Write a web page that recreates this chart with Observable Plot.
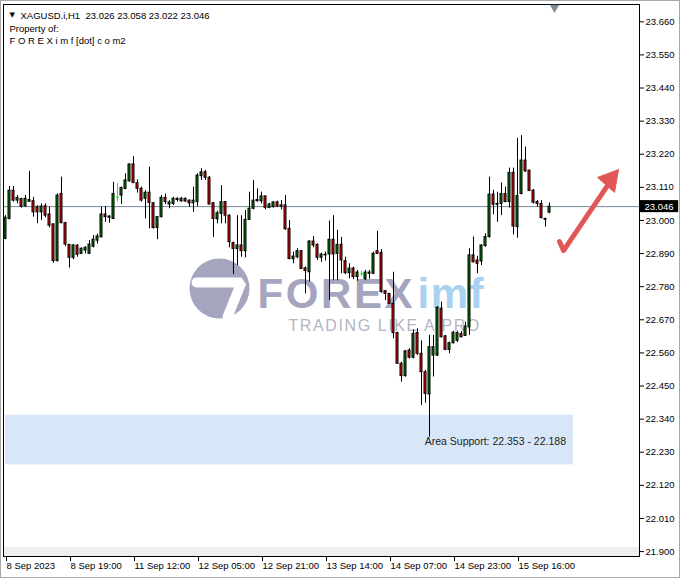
<!DOCTYPE html>
<html><head><meta charset="utf-8">
<script src="https://cdn.jsdelivr.net/npm/d3@7"></script>
<script src="https://cdn.jsdelivr.net/npm/@observablehq/plot@0.6"></script>
<style>
html,body{margin:0;padding:0;background:#fff;}
#chart{position:relative;width:681px;height:579px;overflow:hidden;}
</style></head>
<body><div id="chart"></div>
<script>
// Hourly candles, XAGUSD.i H1
const opens = [22.939,23.005,23.099,23.066,23.071,23.047,23.062,23.064,23.044,23.027,23.047,23.020,22.987,22.865,23.088,22.991,22.919,22.876,22.916,22.889,22.900,22.889,22.913,22.933,22.944,23.020,23.009,23.005,23.077,23.083,23.105,23.130,23.186,23.124,23.105,23.072,23.092,23.057,22.975,23.011,23.075,23.053,23.055,23.068,23.064,23.072,23.066,23.057,23.061,23.147,23.160,23.142,23.057,23.004,23.022,23.061,23.016,22.925,22.905,22.917,22.898,23.002,23.039,23.064,23.064,23.080,23.042,23.044,23.060,23.050,23.050,22.972,22.871,22.878,22.898,22.841,22.828,22.930,22.919,22.876,22.884,22.887,22.936,22.889,22.919,22.865,22.825,22.840,22.812,22.823,22.805,22.823,22.823,22.898,22.892,22.765,22.756,22.723,22.626,22.524,22.483,22.568,22.544,22.626,22.557,22.496,22.422,22.551,22.551,22.707,22.615,22.570,22.592,22.600,22.623,22.616,22.645,22.884,22.867,22.864,22.915,22.945,23.086,23.052,23.055,23.088,23.061,23.158,22.978,23.088,23.199,23.166,23.099,23.061,23.055,23.002,23.026];
const highs = [23.016,23.113,23.113,23.083,23.074,23.083,23.163,23.077,23.049,23.055,23.055,23.044,22.989,23.088,23.144,22.994,22.920,22.920,22.920,22.909,22.913,22.933,22.950,22.955,23.044,23.046,23.016,23.127,23.122,23.111,23.155,23.188,23.212,23.135,23.111,23.099,23.177,23.060,23.013,23.083,23.088,23.066,23.077,23.075,23.077,23.075,23.068,23.111,23.155,23.172,23.166,23.146,23.060,23.031,23.116,23.063,23.018,22.928,23.016,23.016,23.033,23.094,23.133,23.105,23.094,23.080,23.057,23.062,23.064,23.066,23.083,23.000,22.895,22.906,22.900,22.845,22.933,22.947,22.922,22.891,22.895,22.998,23.016,22.967,22.944,22.878,22.856,22.845,22.834,22.832,22.834,22.834,22.895,22.964,22.903,22.767,22.757,22.828,22.629,22.529,22.568,22.574,22.637,22.640,22.600,22.502,22.618,22.618,22.714,22.729,22.618,22.596,22.632,22.632,22.631,22.662,22.906,22.945,22.881,22.919,22.956,23.144,23.100,23.094,23.125,23.111,23.174,23.174,23.273,23.282,23.244,23.166,23.103,23.066,23.066,23.008,23.058];
const lows = [22.936,23.002,23.061,23.055,23.041,23.044,23.061,23.011,22.989,23.000,23.009,22.975,22.858,22.862,22.989,22.913,22.842,22.869,22.878,22.887,22.889,22.887,22.909,22.922,22.942,22.994,22.991,23.004,23.061,23.053,23.102,23.127,23.124,23.091,23.061,23.005,22.972,22.971,22.936,23.009,23.053,23.039,23.050,23.061,23.060,23.060,23.044,23.027,23.046,23.133,23.133,23.052,22.944,22.989,22.989,22.989,22.909,22.820,22.850,22.878,22.876,23.000,23.035,23.061,23.055,23.035,23.039,23.042,23.044,23.035,22.967,22.869,22.856,22.872,22.837,22.756,22.795,22.909,22.867,22.861,22.865,22.734,22.800,22.800,22.823,22.820,22.806,22.803,22.798,22.814,22.800,22.805,22.820,22.887,22.758,22.734,22.721,22.607,22.522,22.463,22.479,22.540,22.540,22.551,22.385,22.393,22.280,22.480,22.548,22.610,22.568,22.557,22.590,22.595,22.610,22.616,22.618,22.859,22.823,22.850,22.911,22.941,23.019,22.994,23.016,23.059,23.041,22.952,22.941,23.085,23.160,23.096,23.055,23.044,23.005,22.978,23.022];
const closes = [23.009,23.099,23.066,23.075,23.046,23.072,23.068,23.027,23.027,23.046,23.016,22.983,22.865,23.083,22.991,22.920,22.876,22.917,22.886,22.906,22.909,22.920,22.936,22.947,23.020,23.011,23.013,23.088,23.077,23.108,23.133,23.186,23.124,23.105,23.066,23.092,23.058,22.975,23.011,23.075,23.061,23.060,23.072,23.072,23.072,23.063,23.057,23.066,23.149,23.160,23.142,23.053,23.005,23.024,23.061,23.016,22.928,22.905,22.917,22.898,23.002,23.039,23.066,23.068,23.080,23.042,23.053,23.060,23.046,23.046,22.971,22.872,22.880,22.898,22.839,22.832,22.930,22.917,22.876,22.887,22.886,22.936,22.887,22.919,22.867,22.825,22.840,22.812,22.827,22.823,22.827,22.827,22.889,22.889,22.762,22.756,22.723,22.626,22.524,22.483,22.565,22.544,22.623,22.557,22.496,22.424,22.579,22.579,22.710,22.612,22.570,22.592,22.627,22.626,22.612,22.648,22.884,22.861,22.856,22.917,22.945,23.086,23.052,23.055,23.088,23.061,23.158,22.980,23.081,23.199,23.163,23.098,23.059,23.055,23.008,23.005,23.046];

const yTickLabels = ["23.660","23.550","23.440","23.330","23.220","23.110","23.000","22.890","22.780","22.670","22.560","22.450","22.340","22.230","22.120","22.010","21.900"];
const xTickIndex = [0,16,32,48,64,80,96,112,128];
const xTickLabels = ["8 Sep 2023","8 Sep 19:00","11 Sep 12:00","12 Sep 05:00","12 Sep 21:00","13 Sep 14:00","14 Sep 07:00","14 Sep 23:00","15 Sep 16:00"];

const symbolName = "XAGUSD.i,H1";
const supportHigh = 22.353, supportLow = 22.188;

const candles = opens.map((o, i) => ({i, o, h: highs[i], l: lows[i], c: closes[i]}));
const bulls = candles.filter(d => d.c > d.o);
const bears = candles.filter(d => d.c < d.o);
const dojis = candles.filter(d => d.c === d.o);
const last = candles[candles.length - 1];
const yTicks = yTickLabels.map(Number);

const FONT = "Liberation Sans, Arial, sans-serif";
const header = `${symbolName}\u00a0\u00a0${last.o.toFixed(3)} ${last.h.toFixed(3)} ${last.l.toFixed(3)} ${last.c.toFixed(3)}`;

const plot = Plot.plot({
  width: 681, height: 579,
  marginLeft: 3, marginRight: 42, marginTop: 4, marginBottom: 23,
  x: {domain: [-0.5, 158.5]},
  y: {domain: [21.8836, 23.7175]},
  style: {fontFamily: FONT, fontSize: "9.5px", background: "white", color: "black", overflow: "visible"},
  marks: [
    // bottom grey band
    Plot.rect([0], {y1: 21.8836, y2: 21.9135, fill: "#efefef"}),
    // support area
    Plot.rect([0], {x1: 0, x2: 142, y1: supportLow, y2: supportHigh, fill: "#d8e7f7"}),
    Plot.text([`Area Support: ${supportHigh.toFixed(3)} - ${supportLow.toFixed(3)}`], {x: 104.8, y: 22.266, textAnchor: "start", fontSize: 10.5, fill: "#222"}),
    // watermark logo
    Plot.dot([0], {x: 53.5, y: 22.774, r: 30, fill: "#a5a5bf", stroke: "none"}),
    Plot.line([[47.75, 22.794], [59, 22.794], [55.5, 22.680]], {x: d => d[0], y: d => d[1], stroke: "white", strokeWidth: 10, strokeLinejoin: "miter"}),
    Plot.text(["FOREX"], {x: 63, y: 22.7553, textAnchor: "start", fontSize: 42, fontWeight: "bold", fill: "#a5a5bf", fontFamily: FONT}),
    Plot.text(["imf"], {x: 103, y: 22.7553, textAnchor: "start", fontSize: 42, fontWeight: "bold", fill: "#aad2f0", fontFamily: FONT}),
    Plot.text(["TRADING LIKE A PRO"], {x: 70.75, y: 22.6497, textAnchor: "start", fontSize: 16, fill: "#b4b4c4", fontFamily: FONT}),
    // current price line
    Plot.ruleY([last.c], {stroke: "#778899"}),
    // candles
    Plot.ruleX(candles, {x: "i", y1: "l", y2: "h", stroke: d => d.o === d.c ? "lime" : "black"}),
    Plot.rect(bulls, {x1: d => d.i - 0.25, x2: d => d.i + 0.25, y1: "o", y2: "c", fill: "#008000", stroke: "black", strokeWidth: 1}),
    Plot.rect(bears, {x1: d => d.i - 0.25, x2: d => d.i + 0.25, y1: "o", y2: "c", fill: "#ff0000", stroke: "black", strokeWidth: 1}),
    Plot.ruleY(dojis, {y: "c", x1: d => d.i - 0.25, x2: d => d.i + 0.5, stroke: "lime"}),
    // red arrow
    Plot.line([[138.5, 22.930], [139.5, 22.900], [150.5, 23.116]], {x: d => d[0], y: d => d[1], stroke: "#e25656", strokeWidth: 5, strokeLinecap: "round", strokeLinejoin: "round"}),
    Plot.line([[153.25, 23.169], [148, 23.143], [152.25, 23.093], [153.25, 23.169]], {x: d => d[0], y: d => d[1], stroke: "#e25656", fill: "#e25656", strokeWidth: 1}),
    // frame and axes
    Plot.frame({stroke: "black"}),
    Plot.axisY(yTicks, {anchor: "right", tickSize: 4, tickPadding: 2, tickFormat: d => d.toFixed(3), label: null, fontSize: 9.5}),
    Plot.axisX(xTickIndex, {anchor: "bottom", tickSize: 5, tickPadding: 1, textAnchor: "start", dx: 1, tickFormat: d => xTickLabels[xTickIndex.indexOf(d)], label: null, fontSize: 9.5}),
    // current price label
    Plot.rect([last.c], {x1: 158.75, x2: 168.3, y1: d => d - 0.02, y2: d => d + 0.02, fill: "black"}),
    Plot.text([last.c], {y: d => d, frameAnchor: "right", dx: 5, textAnchor: "start", fill: "white", text: d => d.toFixed(3), fontSize: 9.5}),
    // chart shift marker
    Plot.dot([137.25], {x: d => d, frameAnchor: "top", symbol: "triangle", rotate: 180, r: 3.5, fill: "#7f8b97", stroke: "none", dy: 3}),
    // header
    Plot.text(["\u25BC"], {frameAnchor: "top-left", dx: 6, dy: 8, fontSize: 7, textAnchor: "start", fontFamily: "DejaVu Sans", fill: "black"}),
    Plot.text([header], {frameAnchor: "top-left", dx: 17, dy: 8, textAnchor: "start", fontSize: 9.5, fill: "black"}),
    Plot.text(["Property of:"], {frameAnchor: "top-left", dx: 6, dy: 21, textAnchor: "start", fontSize: 9.5, fill: "black"}),
    Plot.text(["F O R E X i m f [dot] c o m2"], {frameAnchor: "top-left", dx: 6, dy: 33, textAnchor: "start", fontSize: 9.5, fill: "black"})
  ]
});
document.getElementById("chart").appendChild(plot);
// watermark letter spacing
d3.select(plot).selectAll("text").each(function() {
  const t = this.textContent;
  if (t === "FOREX") this.style.letterSpacing = "2.6px";
  if (t === "imf") this.style.letterSpacing = "1.5px";
  if (t === "TRADING LIKE A PRO") this.style.letterSpacing = "1.6px";
});
// outer window border
d3.select(plot).append("rect").attr("x", 0.5).attr("y", 0.5).attr("width", 679).attr("height", 577)
  .attr("fill", "none").attr("stroke", "#a8a8a8");
</script></body></html>
